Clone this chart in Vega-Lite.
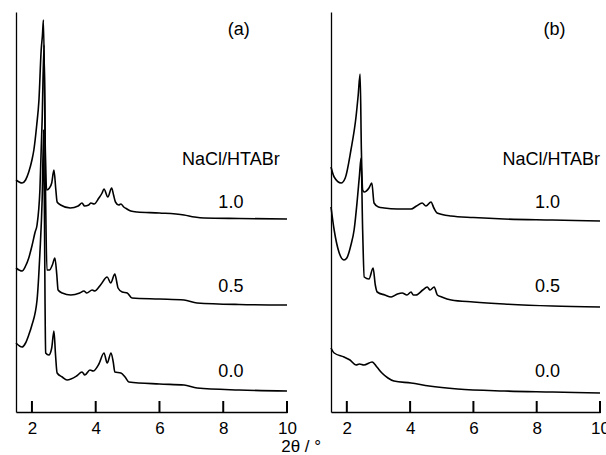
{
  "$schema": "https://vega.github.io/schema/vega-lite/v6.json",
  "padding": {"left": 12, "top": 12, "right": 5, "bottom": 0},
  "spacing": 44,
  "bounds": "flush",
  "datasets": {
    "tickpos": [{"t": 2}, {"t": 4}, {"t": 6}, {"t": 8}, {"t": 10}],
    "traces": [
      {"panel": "a", "series": "1.0", "x": 1.5, "y": 232},
      {"panel": "a", "series": "1.0", "x": 1.6, "y": 230},
      {"panel": "a", "series": "1.0", "x": 1.69, "y": 229},
      {"panel": "a", "series": "1.0", "x": 1.8, "y": 232},
      {"panel": "a", "series": "1.0", "x": 1.9, "y": 240},
      {"panel": "a", "series": "1.0", "x": 2.0, "y": 252},
      {"panel": "a", "series": "1.0", "x": 2.06, "y": 262},
      {"panel": "a", "series": "1.0", "x": 2.15, "y": 287},
      {"panel": "a", "series": "1.0", "x": 2.22, "y": 312},
      {"panel": "a", "series": "1.0", "x": 2.29, "y": 362},
      {"panel": "a", "series": "1.0", "x": 2.33, "y": 377},
      {"panel": "a", "series": "1.0", "x": 2.36, "y": 392},
      {"panel": "a", "series": "1.0", "x": 2.42, "y": 262},
      {"panel": "a", "series": "1.0", "x": 2.46, "y": 222},
      {"panel": "a", "series": "1.0", "x": 2.55, "y": 224},
      {"panel": "a", "series": "1.0", "x": 2.62, "y": 229},
      {"panel": "a", "series": "1.0", "x": 2.69, "y": 242},
      {"panel": "a", "series": "1.0", "x": 2.75, "y": 222},
      {"panel": "a", "series": "1.0", "x": 2.79, "y": 210},
      {"panel": "a", "series": "1.0", "x": 2.9, "y": 207},
      {"panel": "a", "series": "1.0", "x": 3.2, "y": 204},
      {"panel": "a", "series": "1.0", "x": 3.45, "y": 206},
      {"panel": "a", "series": "1.0", "x": 3.57, "y": 209},
      {"panel": "a", "series": "1.0", "x": 3.65, "y": 206},
      {"panel": "a", "series": "1.0", "x": 3.78, "y": 207},
      {"panel": "a", "series": "1.0", "x": 3.85, "y": 209},
      {"panel": "a", "series": "1.0", "x": 3.95, "y": 208},
      {"panel": "a", "series": "1.0", "x": 4.1, "y": 214},
      {"panel": "a", "series": "1.0", "x": 4.2, "y": 219},
      {"panel": "a", "series": "1.0", "x": 4.26, "y": 223},
      {"panel": "a", "series": "1.0", "x": 4.38, "y": 215},
      {"panel": "a", "series": "1.0", "x": 4.5, "y": 224},
      {"panel": "a", "series": "1.0", "x": 4.56, "y": 217},
      {"panel": "a", "series": "1.0", "x": 4.62, "y": 210},
      {"panel": "a", "series": "1.0", "x": 4.72, "y": 207},
      {"panel": "a", "series": "1.0", "x": 4.79, "y": 208},
      {"panel": "a", "series": "1.0", "x": 4.88, "y": 205},
      {"panel": "a", "series": "1.0", "x": 4.98, "y": 203},
      {"panel": "a", "series": "1.0", "x": 5.1, "y": 201},
      {"panel": "a", "series": "1.0", "x": 5.3, "y": 200},
      {"panel": "a", "series": "1.0", "x": 6.0, "y": 199},
      {"panel": "a", "series": "1.0", "x": 6.77, "y": 197},
      {"panel": "a", "series": "1.0", "x": 7.1, "y": 195},
      {"panel": "a", "series": "1.0", "x": 7.4, "y": 194},
      {"panel": "a", "series": "1.0", "x": 8.5, "y": 193.5},
      {"panel": "a", "series": "1.0", "x": 10, "y": 193},

      {"panel": "a", "series": "0.5", "x": 1.5, "y": 144},
      {"panel": "a", "series": "0.5", "x": 1.69, "y": 141},
      {"panel": "a", "series": "0.5", "x": 1.8, "y": 146},
      {"panel": "a", "series": "0.5", "x": 1.9, "y": 154},
      {"panel": "a", "series": "0.5", "x": 2.0, "y": 166},
      {"panel": "a", "series": "0.5", "x": 2.1, "y": 180},
      {"panel": "a", "series": "0.5", "x": 2.16, "y": 187},
      {"panel": "a", "series": "0.5", "x": 2.25, "y": 222},
      {"panel": "a", "series": "0.5", "x": 2.32, "y": 292},
      {"panel": "a", "series": "0.5", "x": 2.38, "y": 367},
      {"panel": "a", "series": "0.5", "x": 2.43, "y": 212},
      {"panel": "a", "series": "0.5", "x": 2.47, "y": 142},
      {"panel": "a", "series": "0.5", "x": 2.55, "y": 142},
      {"panel": "a", "series": "0.5", "x": 2.64, "y": 147},
      {"panel": "a", "series": "0.5", "x": 2.72, "y": 154},
      {"panel": "a", "series": "0.5", "x": 2.78, "y": 137},
      {"panel": "a", "series": "0.5", "x": 2.82, "y": 122},
      {"panel": "a", "series": "0.5", "x": 2.95, "y": 119},
      {"panel": "a", "series": "0.5", "x": 3.22, "y": 117},
      {"panel": "a", "series": "0.5", "x": 3.5, "y": 119},
      {"panel": "a", "series": "0.5", "x": 3.63, "y": 121},
      {"panel": "a", "series": "0.5", "x": 3.72, "y": 119},
      {"panel": "a", "series": "0.5", "x": 3.89, "y": 122},
      {"panel": "a", "series": "0.5", "x": 3.97, "y": 121},
      {"panel": "a", "series": "0.5", "x": 4.15, "y": 127},
      {"panel": "a", "series": "0.5", "x": 4.36, "y": 135},
      {"panel": "a", "series": "0.5", "x": 4.47, "y": 129},
      {"panel": "a", "series": "0.5", "x": 4.6, "y": 138},
      {"panel": "a", "series": "0.5", "x": 4.66, "y": 130},
      {"panel": "a", "series": "0.5", "x": 4.7, "y": 124},
      {"panel": "a", "series": "0.5", "x": 4.83, "y": 120},
      {"panel": "a", "series": "0.5", "x": 4.99, "y": 119},
      {"panel": "a", "series": "0.5", "x": 5.14, "y": 114},
      {"panel": "a", "series": "0.5", "x": 6.0, "y": 113},
      {"panel": "a", "series": "0.5", "x": 6.77, "y": 112},
      {"panel": "a", "series": "0.5", "x": 7.18, "y": 109},
      {"panel": "a", "series": "0.5", "x": 8.5, "y": 107.5},
      {"panel": "a", "series": "0.5", "x": 10, "y": 107},

      {"panel": "a", "series": "0.0", "x": 1.5, "y": 69},
      {"panel": "a", "series": "0.0", "x": 1.69, "y": 65},
      {"panel": "a", "series": "0.0", "x": 1.8, "y": 69},
      {"panel": "a", "series": "0.0", "x": 1.9, "y": 77},
      {"panel": "a", "series": "0.0", "x": 2.0, "y": 87},
      {"panel": "a", "series": "0.0", "x": 2.16, "y": 112},
      {"panel": "a", "series": "0.0", "x": 2.25, "y": 159},
      {"panel": "a", "series": "0.0", "x": 2.32, "y": 212},
      {"panel": "a", "series": "0.0", "x": 2.37, "y": 282},
      {"panel": "a", "series": "0.0", "x": 2.41, "y": 112},
      {"panel": "a", "series": "0.0", "x": 2.43, "y": 59},
      {"panel": "a", "series": "0.0", "x": 2.53, "y": 57},
      {"panel": "a", "series": "0.0", "x": 2.62, "y": 64},
      {"panel": "a", "series": "0.0", "x": 2.69, "y": 81},
      {"panel": "a", "series": "0.0", "x": 2.74, "y": 57},
      {"panel": "a", "series": "0.0", "x": 2.79, "y": 39},
      {"panel": "a", "series": "0.0", "x": 2.95, "y": 35},
      {"panel": "a", "series": "0.0", "x": 3.1, "y": 32},
      {"panel": "a", "series": "0.0", "x": 3.4, "y": 36},
      {"panel": "a", "series": "0.0", "x": 3.57, "y": 40},
      {"panel": "a", "series": "0.0", "x": 3.66, "y": 37},
      {"panel": "a", "series": "0.0", "x": 3.82, "y": 42},
      {"panel": "a", "series": "0.0", "x": 3.92, "y": 41},
      {"panel": "a", "series": "0.0", "x": 4.1, "y": 48},
      {"panel": "a", "series": "0.0", "x": 4.26, "y": 59},
      {"panel": "a", "series": "0.0", "x": 4.36, "y": 49},
      {"panel": "a", "series": "0.0", "x": 4.48, "y": 59},
      {"panel": "a", "series": "0.0", "x": 4.55, "y": 50},
      {"panel": "a", "series": "0.0", "x": 4.6, "y": 40},
      {"panel": "a", "series": "0.0", "x": 4.79, "y": 39},
      {"panel": "a", "series": "0.0", "x": 4.92, "y": 35},
      {"panel": "a", "series": "0.0", "x": 5.04, "y": 30},
      {"panel": "a", "series": "0.0", "x": 6.0, "y": 28},
      {"panel": "a", "series": "0.0", "x": 6.77, "y": 27},
      {"panel": "a", "series": "0.0", "x": 7.18, "y": 24},
      {"panel": "a", "series": "0.0", "x": 8.5, "y": 22},
      {"panel": "a", "series": "0.0", "x": 10, "y": 21},

      {"panel": "b", "series": "1.0", "x": 1.5, "y": 245},
      {"panel": "b", "series": "1.0", "x": 1.6, "y": 235},
      {"panel": "b", "series": "1.0", "x": 1.82, "y": 229},
      {"panel": "b", "series": "1.0", "x": 1.95, "y": 234},
      {"panel": "b", "series": "1.0", "x": 2.13, "y": 262},
      {"panel": "b", "series": "1.0", "x": 2.29, "y": 295},
      {"panel": "b", "series": "1.0", "x": 2.36, "y": 317},
      {"panel": "b", "series": "1.0", "x": 2.42, "y": 338},
      {"panel": "b", "series": "1.0", "x": 2.46, "y": 262},
      {"panel": "b", "series": "1.0", "x": 2.5, "y": 222},
      {"panel": "b", "series": "1.0", "x": 2.55, "y": 220},
      {"panel": "b", "series": "1.0", "x": 2.7, "y": 224},
      {"panel": "b", "series": "1.0", "x": 2.79, "y": 229},
      {"panel": "b", "series": "1.0", "x": 2.86, "y": 209},
      {"panel": "b", "series": "1.0", "x": 3.0, "y": 205},
      {"panel": "b", "series": "1.0", "x": 3.18, "y": 204},
      {"panel": "b", "series": "1.0", "x": 3.6, "y": 203},
      {"panel": "b", "series": "1.0", "x": 4.03, "y": 203},
      {"panel": "b", "series": "1.0", "x": 4.2, "y": 206},
      {"panel": "b", "series": "1.0", "x": 4.38, "y": 209},
      {"panel": "b", "series": "1.0", "x": 4.5, "y": 206},
      {"panel": "b", "series": "1.0", "x": 4.66, "y": 210},
      {"panel": "b", "series": "1.0", "x": 4.75, "y": 204},
      {"panel": "b", "series": "1.0", "x": 4.85, "y": 199},
      {"panel": "b", "series": "1.0", "x": 5.29, "y": 196},
      {"panel": "b", "series": "1.0", "x": 6.0, "y": 194.5},
      {"panel": "b", "series": "1.0", "x": 6.97, "y": 193},
      {"panel": "b", "series": "1.0", "x": 8.5, "y": 192},
      {"panel": "b", "series": "1.0", "x": 10, "y": 191},

      {"panel": "b", "series": "0.5", "x": 1.5, "y": 205},
      {"panel": "b", "series": "0.5", "x": 1.6, "y": 182},
      {"panel": "b", "series": "0.5", "x": 1.75, "y": 160},
      {"panel": "b", "series": "0.5", "x": 1.91, "y": 152},
      {"panel": "b", "series": "0.5", "x": 2.0, "y": 154},
      {"panel": "b", "series": "0.5", "x": 2.13, "y": 167},
      {"panel": "b", "series": "0.5", "x": 2.23, "y": 182},
      {"panel": "b", "series": "0.5", "x": 2.33, "y": 212},
      {"panel": "b", "series": "0.5", "x": 2.4, "y": 237},
      {"panel": "b", "series": "0.5", "x": 2.45, "y": 254},
      {"panel": "b", "series": "0.5", "x": 2.5, "y": 182},
      {"panel": "b", "series": "0.5", "x": 2.55, "y": 135},
      {"panel": "b", "series": "0.5", "x": 2.7, "y": 133},
      {"panel": "b", "series": "0.5", "x": 2.83, "y": 144},
      {"panel": "b", "series": "0.5", "x": 2.9, "y": 127},
      {"panel": "b", "series": "0.5", "x": 2.96, "y": 120},
      {"panel": "b", "series": "0.5", "x": 3.2, "y": 117},
      {"panel": "b", "series": "0.5", "x": 3.4, "y": 115},
      {"panel": "b", "series": "0.5", "x": 3.6, "y": 118},
      {"panel": "b", "series": "0.5", "x": 3.75, "y": 119},
      {"panel": "b", "series": "0.5", "x": 3.9, "y": 117},
      {"panel": "b", "series": "0.5", "x": 4.03, "y": 120},
      {"panel": "b", "series": "0.5", "x": 4.1, "y": 117},
      {"panel": "b", "series": "0.5", "x": 4.19, "y": 117},
      {"panel": "b", "series": "0.5", "x": 4.4, "y": 122},
      {"panel": "b", "series": "0.5", "x": 4.54, "y": 125},
      {"panel": "b", "series": "0.5", "x": 4.63, "y": 122},
      {"panel": "b", "series": "0.5", "x": 4.76, "y": 125},
      {"panel": "b", "series": "0.5", "x": 4.86, "y": 117},
      {"panel": "b", "series": "0.5", "x": 5.0, "y": 115},
      {"panel": "b", "series": "0.5", "x": 5.3, "y": 112},
      {"panel": "b", "series": "0.5", "x": 6.0, "y": 110},
      {"panel": "b", "series": "0.5", "x": 6.97, "y": 108},
      {"panel": "b", "series": "0.5", "x": 8.5, "y": 106},
      {"panel": "b", "series": "0.5", "x": 10, "y": 105},

      {"panel": "b", "series": "0.0", "x": 1.5, "y": 64},
      {"panel": "b", "series": "0.0", "x": 1.6, "y": 59},
      {"panel": "b", "series": "0.0", "x": 1.91, "y": 55},
      {"panel": "b", "series": "0.0", "x": 2.1, "y": 52},
      {"panel": "b", "series": "0.0", "x": 2.29, "y": 47},
      {"panel": "b", "series": "0.0", "x": 2.4, "y": 48},
      {"panel": "b", "series": "0.0", "x": 2.54, "y": 47},
      {"panel": "b", "series": "0.0", "x": 2.8, "y": 50},
      {"panel": "b", "series": "0.0", "x": 2.95, "y": 45},
      {"panel": "b", "series": "0.0", "x": 3.11, "y": 39},
      {"panel": "b", "series": "0.0", "x": 3.3, "y": 34},
      {"panel": "b", "series": "0.0", "x": 3.49, "y": 31},
      {"panel": "b", "series": "0.0", "x": 4.03, "y": 29},
      {"panel": "b", "series": "0.0", "x": 4.6, "y": 26},
      {"panel": "b", "series": "0.0", "x": 5.5, "y": 23},
      {"panel": "b", "series": "0.0", "x": 6.97, "y": 21},
      {"panel": "b", "series": "0.0", "x": 8.5, "y": 20},
      {"panel": "b", "series": "0.0", "x": 10, "y": 19}
    ],
    "labels": [
      {"panel": "a", "x": 8.49, "y": 382, "text": "(a)"},
      {"panel": "a", "x": 8.24, "y": 252, "text": "NaCl/HTABr"},
      {"panel": "a", "x": 8.24, "y": 209, "text": "1.0"},
      {"panel": "a", "x": 8.24, "y": 125, "text": "0.5"},
      {"panel": "a", "x": 8.24, "y": 40, "text": "0.0"},
      {"panel": "b", "x": 8.56, "y": 382, "text": "(b)"},
      {"panel": "b", "x": 8.46, "y": 252, "text": "NaCl/HTABr"},
      {"panel": "b", "x": 8.34, "y": 209, "text": "1.0"},
      {"panel": "b", "x": 8.34, "y": 125, "text": "0.5"},
      {"panel": "b", "x": 8.34, "y": 40, "text": "0.0"}
    ]
  },
  "title": {"text": "2θ / °", "orient": "bottom", "anchor": "middle", "fontSize": 17, "fontWeight": "normal", "font": "Liberation Sans", "color": "black", "offset": 3, "dx": -10},
  "hconcat": [
    {
      "width": 271,
      "height": 400,
      "layer": [
        {
          "data": {"name": "traces"},
          "transform": [{"filter": "datum.panel === 'a'"}],
          "mark": {"type": "line", "color": "black", "strokeWidth": 1.6, "interpolate": "monotone"},
          "encoding": {
            "x": {"field": "x", "type": "quantitative", "scale": {"domain": [1.5, 10], "nice": false, "zero": false},
                  "axis": {"values": [2, 4, 6, 8, 10], "ticks": false, "domainColor": "black", "domainWidth": 1.3, "labelColor": "black", "labelFont": "Liberation Sans", "labelFontSize": 17, "labelPadding": 8, "grid": false, "title": null, "labelFlush": false}},
            "y": {"field": "y", "type": "quantitative", "scale": {"domain": [0, 400], "nice": false},
                  "axis": {"labels": false, "ticks": false, "grid": false, "domainColor": "black", "domainWidth": 1.3, "title": null}},
            "detail": {"field": "series"}
          }
        },
        {
          "data": {"name": "labels"},
          "transform": [{"filter": "datum.panel === 'a'"}],
          "mark": {"type": "text", "font": "Liberation Sans", "fontSize": 18, "color": "black", "align": "center", "baseline": "middle"},
          "encoding": {
            "x": {"field": "x", "type": "quantitative"},
            "y": {"field": "y", "type": "quantitative"},
            "text": {"field": "text"}
          }
        },
        {
          "data": {"name": "tickpos"},
          "mark": {"type": "tick", "orient": "vertical", "color": "black", "size": 12, "thickness": 2, "opacity": 1},
          "encoding": {
            "x": {"field": "t", "type": "quantitative"},
            "y": {"datum": 5, "type": "quantitative"}
          }
        }
      ]
    },
    {
      "width": 269,
      "height": 400,
      "layer": [
        {
          "data": {"name": "traces"},
          "transform": [{"filter": "datum.panel === 'b'"}],
          "mark": {"type": "line", "color": "black", "strokeWidth": 1.6, "interpolate": "monotone"},
          "encoding": {
            "x": {"field": "x", "type": "quantitative", "scale": {"domain": [1.5, 10], "nice": false, "zero": false},
                  "axis": {"values": [2, 4, 6, 8, 10], "ticks": false, "domainColor": "black", "domainWidth": 1.3, "labelColor": "black", "labelFont": "Liberation Sans", "labelFontSize": 17, "labelPadding": 8, "grid": false, "title": null, "labelFlush": false}},
            "y": {"field": "y", "type": "quantitative", "scale": {"domain": [0, 400], "nice": false},
                  "axis": {"labels": false, "ticks": false, "grid": false, "domainColor": "black", "domainWidth": 1.3, "title": null}},
            "detail": {"field": "series"}
          }
        },
        {
          "data": {"name": "labels"},
          "transform": [{"filter": "datum.panel === 'b'"}],
          "mark": {"type": "text", "font": "Liberation Sans", "fontSize": 18, "color": "black", "align": "center", "baseline": "middle"},
          "encoding": {
            "x": {"field": "x", "type": "quantitative"},
            "y": {"field": "y", "type": "quantitative"},
            "text": {"field": "text"}
          }
        },
        {
          "data": {"name": "tickpos"},
          "mark": {"type": "tick", "orient": "vertical", "color": "black", "size": 12, "thickness": 2, "opacity": 1},
          "encoding": {
            "x": {"field": "t", "type": "quantitative"},
            "y": {"datum": 5, "type": "quantitative"}
          }
        }
      ]
    }
  ],
  "config": {
    "view": {"stroke": null}
  }
}
